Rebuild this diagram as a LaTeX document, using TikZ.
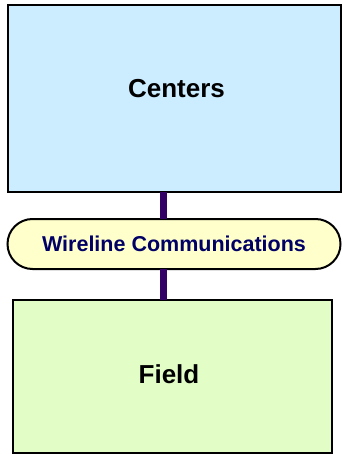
\documentclass[tikz,border=0pt]{standalone}
\usepackage{fontspec}
\setmainfont{Liberation Sans}
\definecolor{centerfill}{HTML}{CCECFF}
\definecolor{linkfill}{HTML}{FFFFCC}
\definecolor{fieldfill}{HTML}{E3FDC6}
\definecolor{linkcol}{HTML}{330066}
\definecolor{navy}{HTML}{000066}
\tikzset{
  panel/.style={draw=black, line width=2pt, inner sep=0pt, outer sep=0pt},
  pill/.style={panel, rounded corners=25pt},
  wire/.style={draw=linkcol, line width=7pt},
  bigtxt/.style={inner sep=0pt, font=\bfseries\fontsize{26}{30}\selectfont},
  linktxt/.style={inner sep=0pt, text=navy, font=\bfseries\fontsize{21.5}{25}\selectfont}
}
\begin{document}
\begin{tikzpicture}[x=1pt, y=-1pt]
  \useasboundingbox (0,0) rectangle (342,454);
  % boxes
  \node[panel, fill=centerfill, minimum width=333pt, minimum height=186pt] (centers) at (174,98.5) {};
  \node[pill, fill=linkfill, minimum width=333pt, minimum height=50pt] (wireline) at (174,244) {};
  \node[panel, fill=fieldfill, minimum width=319pt, minimum height=152.5pt] (field) at (172.5,376.25) {};
  % vertical line on which the links run
  \coordinate (linkx) at (163.5,0);
  % links
  \draw[wire] (centers.south -| linkx) -- (wireline.north -| linkx);
  \draw[wire] (wireline.south -| linkx) -- (field.north -| linkx);
  % labels
  \node[bigtxt] (centerslbl) at (176.5,88.5) {Centers};
  \node[linktxt] (wirelbl) at (174,244) {Wireline Communications};
  \node[bigtxt] (fieldlbl) at (169,374) {Field};
\end{tikzpicture}
\end{document}
